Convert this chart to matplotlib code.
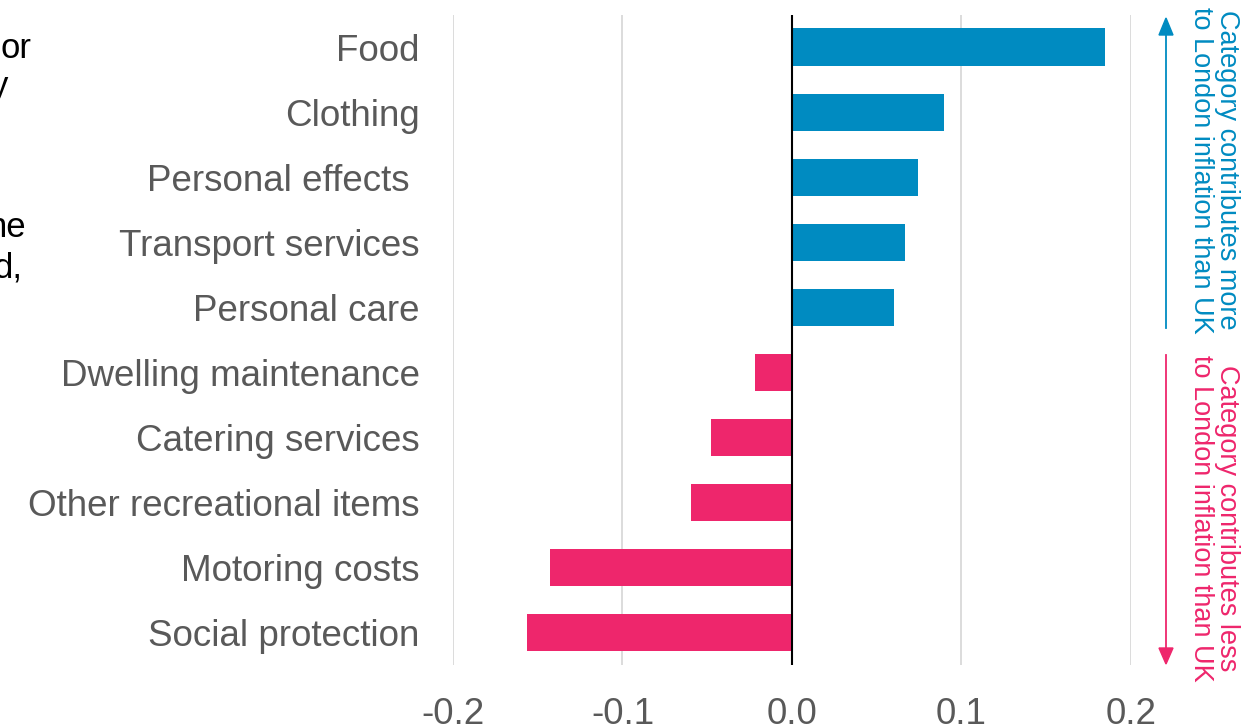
import matplotlib.pyplot as plt

plt.rcParams['font.family'] = ['Liberation Sans', 'DejaVu Sans']

categories = ["Food", "Clothing", "Personal effects ", "Transport services", "Personal care",
              "Dwelling maintenance", "Catering services", "Other recreational items",
              "Motoring costs", "Social protection"]
values = [0.1847, 0.0897, 0.0743, 0.0667, 0.0602,
          -0.0218, -0.0478, -0.0596, -0.1428, -0.1563]
xticks = [-0.2, -0.1, 0.0, 0.1, 0.2]

blue = '#008bc1'
pink = '#ee266c'
grey = '#595959'

fig = plt.figure(figsize=(12.55, 7.25), dpi=100)
ax = fig.add_axes([0.361, 0.083, 0.540, 0.897])

ypos = list(range(len(categories)))
colors = [blue if v >= 0 else pink for v in values]
ax.barh(ypos, values, height=0.57, color=colors, zorder=3)
ax.axvline(0, color='black', lw=1.5, zorder=4)

ax.set_xlim(-0.2, 0.2)
ax.set_ylim(len(categories) - 0.5, -0.5)
ax.set_xticks(xticks)
ax.set_xticklabels([f'{t:.1f}' for t in xticks])
ax.set_yticks(ypos)
ax.set_yticklabels(categories)
ax.tick_params(axis='y', length=0, pad=24, labelsize=26.5, labelcolor=grey)
ax.tick_params(axis='x', length=0, pad=23, labelsize=26.5, labelcolor=grey)
ax.grid(axis='x', color='#d9d9d9', lw=1.3, zorder=0)
for s in ax.spines.values():
    s.set_visible(False)

# side arrows and notes
fig.add_artist(plt.Line2D([1166/1255, 1166/1255], [1-328/725, 1-35/725], color=blue, lw=1.3))
fig.patches.append(plt.Polygon([[1159/1255, 1-35/725], [1173/1255, 1-35/725], [1166/1255, 1-18/725]],
                               closed=True, color=blue, transform=fig.transFigure))
fig.add_artist(plt.Line2D([1166/1255, 1166/1255], [1-355/725, 1-648/725], color=pink, lw=1.3))
fig.patches.append(plt.Polygon([[1159/1255, 1-648/725], [1173/1255, 1-648/725], [1166/1255, 1-664/725]],
                               closed=True, color=pink, transform=fig.transFigure))
fig.text(1214/1255, 1-170/725, "Category contributes more\nto London inflation than UK",
         rotation=270, ha='center', va='center', color=blue, fontsize=19.5, linespacing=0.95)
fig.text(1214/1255, 1-518/725, "Category contributes less\nto London inflation than UK",
         rotation=270, ha='center', va='center', color=pink, fontsize=19.5, linespacing=0.95)

# cut-off text fragments on the left edge
for txt, x, y in [("or", 31, 58), ("y", 8, 96), ("ne", 26, 237), ("d,", 23, 277)]:
    fig.text(x/1255, 1-y/725, txt, ha='right', va='baseline', fontsize=25, color='black')

fig.savefig('out.png', dpi=100)
